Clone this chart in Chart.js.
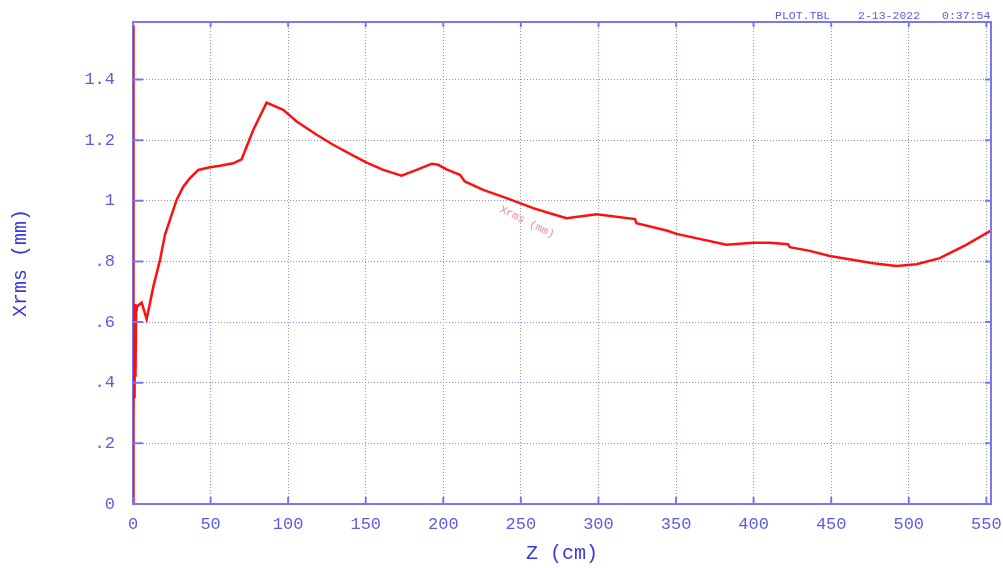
<!DOCTYPE html>
<html lang="en">

<head>
  <meta charset="UTF-8" />
  <title>Xrms</title>
  <style>
    body {
      margin: 0;
      background-color: white;
    }
  </style>
</head>

<body>
  <canvas id="chart" width="1003" height="568"></canvas>

  <script src="https://cdn.jsdelivr.net/npm/chart.js@4.4.0/dist/chart.umd.min.js"></script>
  <script>
    // beam size along the line
    var zValues = [0, 0, 0.2, 0.4, 0.6, 0.8, 1.0, 1.3, 1.6, 2.0, 2.4, 5.6, 8.8, 13.1, 17.4, 20.6, 23.8, 28.1,
      32.4, 36.7, 42.1, 49.6, 56, 64.6, 70, 77.5, 86.1, 96.8, 105.5, 118.4, 129, 142, 150.6, 161.3, 173.1,
      182.8, 192.5, 196.7, 202.1, 210.7, 213.9, 225.7, 240.8, 257.9, 268.7, 279.4, 298.8, 323.5, 324.5,
      343.9, 350.3, 382.5, 399.7, 410.4, 422.2, 423.3, 436.2, 449.1, 477, 492, 505, 520, 537, 552.6];
    var xrmsValues = [0, 1.58, 0.30, 0.71, 0.28, 0.62, 0.35, 0.66, 0.42, 0.64, 0.651, 0.664, 0.61, 0.717,
      0.805, 0.888, 0.937, 1.003, 1.047, 1.075, 1.102, 1.111, 1.116, 1.124, 1.137, 1.234, 1.324, 1.300,
      1.262, 1.218, 1.185, 1.149, 1.126, 1.102, 1.083, 1.102, 1.122, 1.119, 1.104, 1.086, 1.064, 1.036,
      1.009, 0.976, 0.959, 0.943, 0.956, 0.940, 0.926, 0.902, 0.891, 0.855, 0.862, 0.862, 0.857, 0.847,
      0.835, 0.818, 0.794, 0.785, 0.791, 0.811, 0.855, 0.901];

    var xTicks = [0, 50, 100, 150, 200, 250, 300, 350, 400, 450, 500, 550];
    var yTicks = [0, 0.2, 0.4, 0.6, 0.8, 1.0, 1.2, 1.4];
    var yTickLabels = ["0", ".2", ".4", ".6", ".8", "1", "1.2", "1.4"];
    var headerTexts = ["PLOT.TBL", "2-13-2022", "0:37:54"];

    var axisColor = "#7878ee";
    var labelColor = "#5c5ce0";
    var gridColor = "#8c8cf5";
    var mono = "'Liberation Mono', monospace";

    var points = [];
    for (let i in zValues) {
      points.push({ x: zValues[i], y: xrmsValues[i] });
    }

    // frame, inward tick marks, header and curve label
    var decorations = {
      id: "decorations",
      afterDraw: function (chart) {
        var ctx = chart.ctx;
        var a = chart.chartArea;
        var xs = chart.scales.x;
        var ys = chart.scales.y;
        ctx.save();
        ctx.strokeStyle = axisColor;
        ctx.lineWidth = 2;
        ctx.beginPath();
        ctx.moveTo(a.left, a.top);
        ctx.lineTo(a.right, a.top);
        ctx.lineTo(a.right, a.bottom);
        ctx.stroke();

        ctx.beginPath();
        xTicks.forEach(function (t) {
          var px = xs.getPixelForValue(t);
          ctx.moveTo(px, a.bottom);
          ctx.lineTo(px, a.bottom - 7);
          ctx.moveTo(px, a.top);
          ctx.lineTo(px, a.top + 5);
        });
        yTicks.forEach(function (t) {
          var py = ys.getPixelForValue(t);
          ctx.moveTo(a.left, py);
          ctx.lineTo(a.left + 10, py);
          ctx.moveTo(a.right, py);
          ctx.lineTo(a.right - 6, py);
        });
        ctx.stroke();

        ctx.fillStyle = labelColor;
        ctx.font = "11.5px " + mono;
        ctx.textBaseline = "alphabetic";
        ctx.textAlign = "left";
        ctx.fillText(headerTexts[0], 775, 19);
        ctx.fillText(headerTexts[1], 858, 19);
        ctx.fillText(headerTexts[2], 942, 19);

        ctx.translate(xs.getPixelForValue(254), ys.getPixelForValue(0.93));
        ctx.rotate(26.5 * Math.PI / 180);
        ctx.fillStyle = "#f58a8a";
        ctx.font = "11px " + mono;
        ctx.textAlign = "center";
        ctx.textBaseline = "middle";
        ctx.fillText("Xrms (mm)", 0, 0);
        ctx.restore();
      },
    };

    var ctx = document.getElementById("chart").getContext("2d");
    var myChart = new Chart(ctx, {
      type: "line",
      data: {
        datasets: [
          {
            label: "Xrms (mm)",
            data: points,
            borderColor: "#ff1010",
            borderWidth: 2.5,
            pointRadius: 0,
            tension: 0,
          },
        ],
      },
      options: {
        responsive: false,
        animation: false,
        layout: { padding: { top: 22, right: 12, left: 0, bottom: 0 } },
        plugins: {
          legend: { display: false },
          tooltip: { enabled: false },
        },
        scales: {
          x: {
            type: "linear",
            min: 0,
            max: 553,
            afterBuildTicks: function (scale) {
              scale.ticks = xTicks.map(function (v) { return { value: v }; });
            },
            afterFit: function (scale) {
              scale.height = 64;
              scale.paddingLeft = 0;
              scale.paddingRight = 0;
            },
            ticks: {
              color: labelColor,
              font: { family: mono, size: 17 },
              padding: 10,
              maxRotation: 0,
            },
            grid: { color: gridColor, lineWidth: 1, drawTicks: false },
            border: { color: axisColor, width: 2, dash: [1, 2] },
            title: {
              display: true,
              text: "Z (cm)",
              color: "#3a3ad6",
              font: { family: mono, size: 20 },
              padding: { top: 2, bottom: 2 },
            },
          },
          y: {
            type: "linear",
            min: 0,
            max: 1.59,
            afterBuildTicks: function (scale) {
              scale.ticks = yTicks.map(function (v) { return { value: v }; });
            },
            afterFit: function (scale) {
              scale.width = 133;
              scale.paddingTop = 0;
              scale.paddingBottom = 0;
            },
            ticks: {
              color: labelColor,
              font: { family: mono, size: 17 },
              padding: 18,
              callback: function (value) {
                var i = yTicks.findIndex(function (t) { return Math.abs(t - value) < 1e-6; });
                return i >= 0 ? yTickLabels[i] : "";
              },
            },
            grid: { color: gridColor, lineWidth: 1, drawTicks: false },
            border: { color: axisColor, width: 2, dash: [1, 2] },
            title: {
              display: true,
              text: "Xrms (mm)",
              color: "#3a3ad6",
              font: { family: mono, size: 20 },
              padding: { top: 9, bottom: 4 },
            },
          },
        },
      },
      plugins: [decorations],
    });
  </script>
</body>

</html>
